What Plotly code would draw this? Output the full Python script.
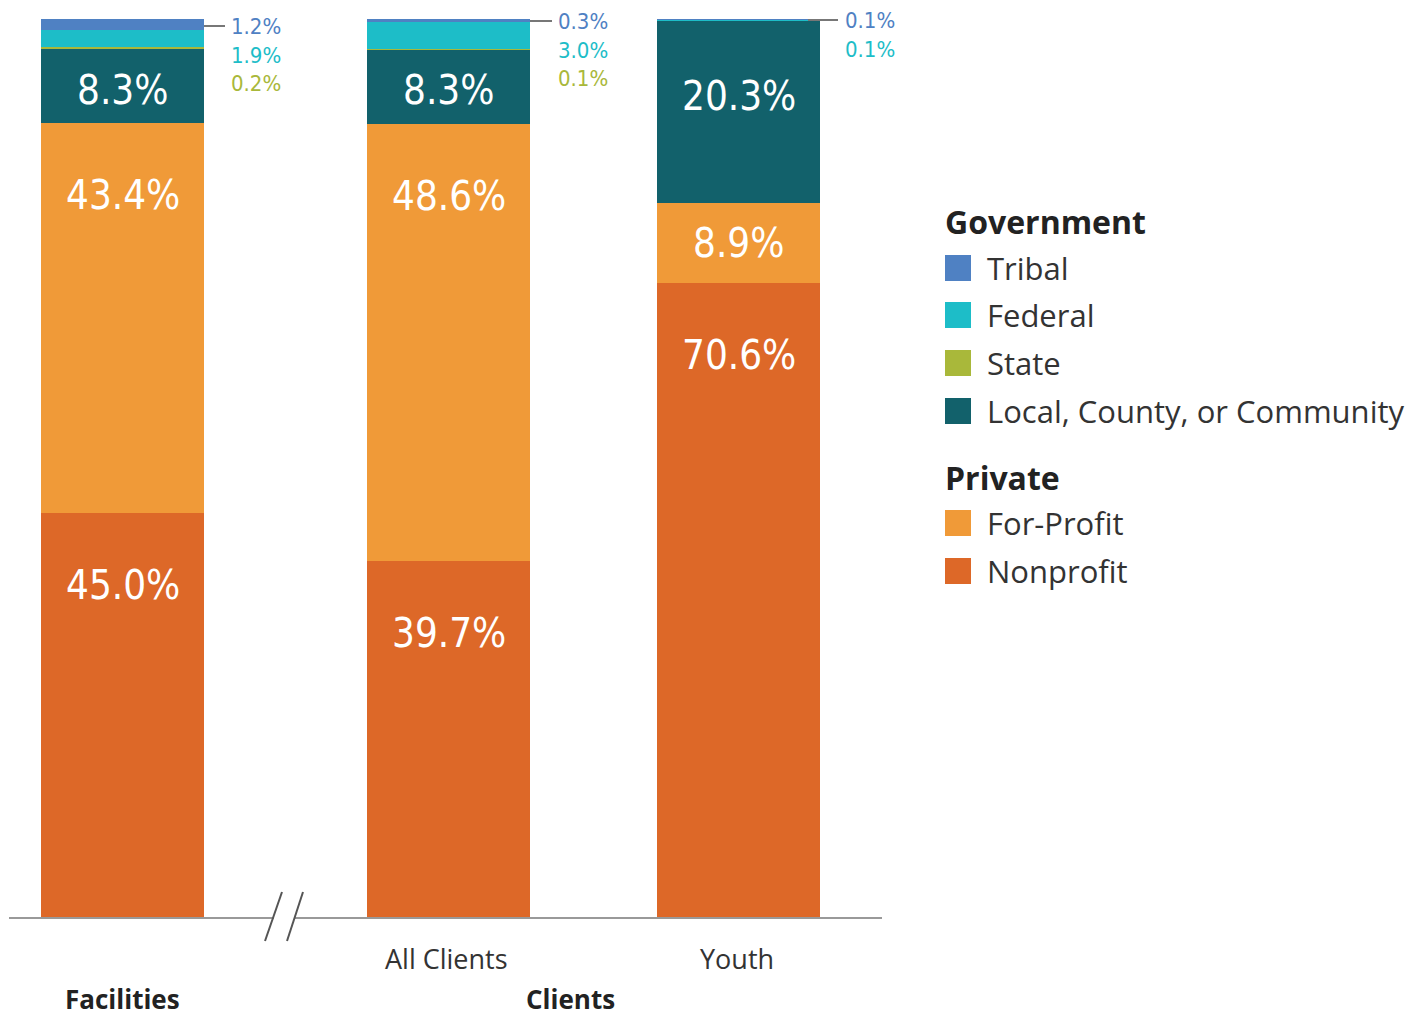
import plotly.graph_objects as go

# ---------------- data ----------------
categories = ["Facilities", "All Clients", "Youth"]
series_names = ["Nonprofit", "For-Profit", "Local, County, or Community", "State", "Federal", "Tribal"]
nonprofit = [45.0, 39.7, 70.6]
for_profit = [43.4, 48.6, 8.9]
local = [8.3, 8.3, 20.3]
state = [0.2, 0.1, 0.0]
federal = [1.9, 3.0, 0.1]
tribal = [1.2, 0.3, 0.1]
group_labels = ["Facilities", "Clients"]

# ---------------- style ----------------
colors = {
    "Nonprofit": "#DD6828",
    "For-Profit": "#F09A38",
    "Local, County, or Community": "#12616B",
    "State": "#A9B83A",
    "Federal": "#1DBDC8",
    "Tribal": "#4F81C3",
}
OFF = 8  # page body margin
W, H = 1421 - OFF, 1019 - OFF
base_px, top_px = 918 - OFF, 19 - OFF
ppu = (base_px - top_px) / 100.0
y_lo = -(H - base_px) / ppu
y_hi = base_px / ppu

def X(p):
    return p - OFF

def px2y(p):
    return (base_px - (p - OFF)) / ppu

def px2paper(p):
    return 1.0 - (p - OFF) / H

x_pos = [X(122.5), X(448.5), X(738.5)]
bar_w = 163
NUM_FONT = "Noto Sans Condensed, DejaVu Sans Condensed, Liberation Sans Narrow, Open Sans, sans-serif"
TXT_FONT = "Open Sans, Noto Sans, sans-serif"

values = {
    "Nonprofit": nonprofit,
    "For-Profit": for_profit,
    "Local, County, or Community": local,
    "State": state,
    "Federal": federal,
    "Tribal": tribal,
}

fig = go.Figure()
for name in series_names:
    fig.add_trace(go.Bar(
        x=x_pos, y=values[name], width=bar_w, name=name,
        marker=dict(color=colors[name], line=dict(width=0)),
        showlegend=False, hoverinfo="skip",
    ))

annotations = []
shapes = []

# inside labels (big ones)
for i, xc in enumerate(x_pos):
    cum = 0.0
    for name in ["Nonprofit", "For-Profit", "Local, County, or Community"]:
        v = values[name][i]
        top = cum + v
        off = min(v / 2.0, 8.0)
        if name == "Local, County, or Community":
            off = min(v / 2.0 + 0.4, 8.4)
        annotations.append(dict(
            x=xc, y=top - off, xref="x", yref="y", text=f"{v:.1f}%",
            showarrow=False, font=dict(family=NUM_FONT, size=40, color="white"),
            xanchor="center", yanchor="middle"))
        cum = top

# small outside labels (one stacked text block per bar)
small_x = [X(229), X(556), X(843)]
lead = [(204, 225), (530, 552), (808, 838)]
first_line = [26, 21, 20]
for i, xc in enumerate(x_pos):
    parts = []
    for name in ["Tribal", "Federal", "State"]:
        v = values[name][i]
        if v <= 0:
            continue
        parts.append(f"<span style='color:{colors[name]}'>{v:.1f}%</span>")
    annotations.append(dict(
        x=small_x[i], y=px2paper(first_line[i] - 14), xref="x", yref="paper", text="<br>".join(parts),
        showarrow=False, font=dict(family=NUM_FONT, size=22, color=colors["Tribal"]),
        xanchor="left", yanchor="top", align="left"))
    ly = px2y(first_line[i])
    shapes.append(dict(type="line", xref="x", yref="y", x0=X(lead[i][0]), x1=X(lead[i][1]),
                       y0=ly, y1=ly, line=dict(color="#777777", width=2)))

# baseline with break
shapes.append(dict(type="line", xref="x", yref="y", x0=X(9), x1=X(274), y0=0, y1=0,
                   line=dict(color="#999999", width=2)))
shapes.append(dict(type="line", xref="x", yref="y", x0=X(295), x1=X(882), y0=0, y1=0,
                   line=dict(color="#999999", width=2)))
for (xa, xb) in [(265, 282), (287, 303)]:
    shapes.append(dict(type="line", xref="x", yref="y", x0=X(xa), x1=X(xb),
                       y0=px2y(941), y1=px2y(892), line=dict(color="#555555", width=2)))

# category labels
for i in [1, 2]:
    annotations.append(dict(x=x_pos[i] - 2, y=px2y(958), xref="x", yref="y", text=categories[i],
                            showarrow=False, font=dict(family=TXT_FONT, size=27, color="#333333"),
                            xanchor="center", yanchor="middle"))
annotations.append(dict(x=x_pos[0], y=px2y(999), xref="x", yref="y", text=f"<b>{group_labels[0]}</b>",
                        showarrow=False, font=dict(family=TXT_FONT, size=26, color="#222222"),
                        xanchor="center", yanchor="middle"))
annotations.append(dict(x=X(570), y=px2y(999), xref="x", yref="y", text=f"<b>{group_labels[1]}</b>",
                        showarrow=False, font=dict(family=TXT_FONT, size=26, color="#222222"),
                        xanchor="center", yanchor="middle"))

# legend (manual)
leg_x = X(945)
rows = [("title", "Government", 221), ("item", "Tribal", 268), ("item", "Federal", 315),
        ("item", "State", 363), ("item", "Local, County, or Community", 411),
        ("title", "Private", 477), ("item", "For-Profit", 523), ("item", "Nonprofit", 571)]
for kind, label, yp in rows:
    if kind == "title":
        annotations.append(dict(x=leg_x - 2, y=px2y(yp), xref="x", yref="y", text=f"<b>{label}</b>",
                                showarrow=False, font=dict(family=TXT_FONT, size=32, color="#222222"),
                                xanchor="left", yanchor="middle"))
    else:
        shapes.append(dict(type="rect", xref="x", yref="y", x0=leg_x, x1=leg_x + 26,
                           y0=px2y(yp + 13), y1=px2y(yp - 13),
                           fillcolor=colors[label], line=dict(width=0)))
        annotations.append(dict(x=X(985), y=px2y(yp), xref="x", yref="y", text=label,
                                showarrow=False, font=dict(family=TXT_FONT, size=31, color="#333333"),
                                xanchor="left", yanchor="middle"))

fig.update_layout(
    width=W, height=H, barmode="stack",
    margin=dict(l=0, r=0, t=0, b=0),
    paper_bgcolor="white", plot_bgcolor="white",
    xaxis=dict(range=[0, W], visible=False, fixedrange=True),
    yaxis=dict(range=[y_lo, y_hi], visible=False, fixedrange=True),
    annotations=annotations, shapes=shapes,
    showlegend=False,
)
fig.write_html("out.html", config={"displayModeBar": False})
